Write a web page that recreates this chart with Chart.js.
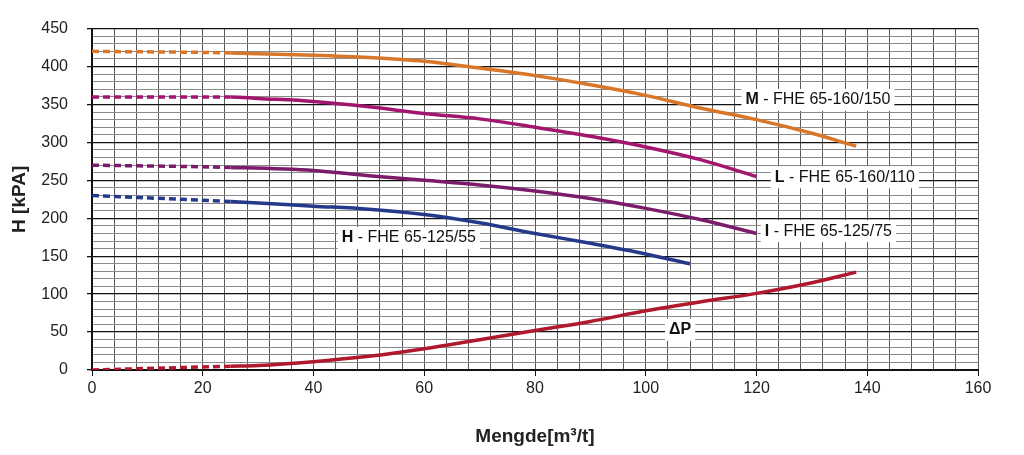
<!DOCTYPE html>
<html>
<head>
<meta charset="utf-8">
<script src="https://cdn.jsdelivr.net/npm/chart.js@4/dist/chart.umd.min.js"></script>
<style>
  html, body { margin: 0; padding: 0; background: #fff; }
</style>
</head>
<body>
<canvas id="pumpChart" width="1024" height="455"></canvas>
<script>
// flow [m3/t] and head [kPa]
const mFlow = [0, 25, 40, 50, 60, 70, 80, 90, 100, 110, 120, 130, 138];
const mHead = [420, 418, 415, 412, 407, 398, 388, 376, 362, 345, 330, 312, 295];

const lFlow = [0, 25, 30, 40, 50, 60, 70, 80, 90, 100, 110, 120];
const lHead = [360, 360, 358, 354, 347, 338, 331, 320, 308, 294, 277, 255];

const iFlow = [0, 25, 40, 50, 60, 70, 80, 90, 100, 110, 120];
const iHead = [270, 267, 263, 256, 250, 244, 236, 226, 213, 198, 180];

const hFlow = [0, 25, 30, 40, 50, 60, 70, 80, 90, 100, 108];
const hHead = [230, 222, 220, 216, 212, 205, 194, 180, 167, 153, 140];

const dpFlow = [0, 25, 30, 40, 50, 60, 70, 80, 90, 100, 110, 120, 130, 138];
const dpHead = [0, 5, 6, 11, 18, 28, 40, 52, 64, 78, 90, 101, 115, 129];

const dashedUntil = 25; // curves are dashed below this flow

// curve names, first part is bold
const curveNames = [
    { bold: 'M', rest: ' - FHE 65-160/150' },
    { bold: 'L', rest: ' - FHE 65-160/110' },
    { bold: 'I', rest: ' - FHE 65-125/75' },
    { bold: 'H', rest: ' - FHE 65-125/55' },
    { bold: '\u0394P', rest: '' }
];
// where each name sits (left edge flow, head)
const nameSpots = [[118, 356], [123.3, 254], [121.5, 183], [45.1, 174], [104.2, 53]];

const FONT = '"Liberation Sans", Arial, sans-serif';

function points(xs, ys) {
    return xs.map((x, i) => ({ x: x, y: ys[i] }));
}

function curve(label, xs, ys, color) {
    return {
        label: label,
        data: points(xs, ys),
        borderColor: color,
        backgroundColor: color,
        borderWidth: 3.5,
        pointRadius: 0,
        tension: 0.4,
        cubicInterpolationMode: 'monotone',
        segment: {
            borderDash: ctx => ctx.p1.parsed.x <= dashedUntil ? [7, 4] : undefined
        }
    };
}

// white boxed labels next to each curve
const curveNamePlugin = {
    id: 'curveNames',
    afterDatasetsDraw(chart) {
        const { ctx, scales } = chart;
        ctx.save();
        ctx.textBaseline = 'middle';
        curveNames.forEach((n, i) => {
            const px = scales.x.getPixelForValue(nameSpots[i][0]);
            const py = scales.y.getPixelForValue(nameSpots[i][1]);
            ctx.font = 'bold 16px ' + FONT;
            const wb = ctx.measureText(n.bold).width;
            ctx.font = '16px ' + FONT;
            const wr = ctx.measureText(n.rest).width;
            ctx.fillStyle = '#fff';
            ctx.fillRect(px - 4, py - 11, wb + wr + 8, 22);
            ctx.fillStyle = '#111';
            ctx.font = 'bold 16px ' + FONT;
            ctx.fillText(n.bold, px, py);
            ctx.font = '16px ' + FONT;
            ctx.fillText(n.rest, px + wb, py);
        });
        ctx.restore();
    }
};

new Chart(document.getElementById('pumpChart'), {
    type: 'line',
    data: {
        datasets: [
            curve('M', mFlow, mHead, '#d8772a'),
            curve('L', lFlow, lHead, '#a3166f'),
            curve('I', iFlow, iHead, '#7b1c6b'),
            curve('H', hFlow, hHead, '#25398a'),
            curve('dP', dpFlow, dpHead, '#b0192d')
        ]
    },
    options: {
        responsive: false,
        devicePixelRatio: 1,
        animation: false,
        layout: { padding: { top: 16, right: 46, bottom: 0, left: 0 } },
        plugins: {
            legend: { display: false },
            tooltip: { enabled: false }
        },
        scales: {
            x: {
                type: 'linear',
                min: 0,
                max: 160,
                afterFit: s => { s.height = 85; },
                border: { color: '#111', width: 2 },
                grid: {
                    color: '#5a5a5a',
                    lineWidth: 1,
                    tickLength: 6,
                    tickColor: c => c.tick && c.tick.value % 20 === 0 ? '#111' : 'rgba(0,0,0,0)'
                },
                ticks: {
                    stepSize: 4,
                    maxTicksLimit: 1000,
                    autoSkip: false,
                    maxRotation: 0,
                    padding: 3,
                    color: '#222',
                    font: { family: FONT, size: 16 },
                    callback: v => v % 20 === 0 ? v : ''
                },
                title: {
                    display: true,
                    text: 'Mengde[m\u00b3/t]',
                    color: '#222',
                    font: { family: FONT, size: 19, weight: 'bold' },
                    padding: { top: 4, bottom: 7 }
                }
            },
            y: {
                min: 0,
                max: 450,
                afterFit: s => { s.width = 92; },
                border: { color: '#111', width: 2 },
                grid: {
                    color: c => c.tick && c.tick.value % 50 === 0 ? '#111' : '#8a8a8a',
                    lineWidth: c => c.tick && c.tick.value % 50 === 0 ? 1.3 : 1,
                    tickLength: 5,
                    tickColor: c => c.tick && c.tick.value % 50 === 0 ? '#111' : 'rgba(0,0,0,0)'
                },
                ticks: {
                    stepSize: 10,
                    maxTicksLimit: 1000,
                    autoSkip: false,
                    padding: 19,
                    color: '#222',
                    font: { family: FONT, size: 16 },
                    callback: v => v % 50 === 0 ? v : ''
                },
                title: {
                    display: true,
                    text: 'H [kPA]',
                    color: '#222',
                    font: { family: FONT, size: 19, weight: 'bold' },
                    padding: { top: 8, bottom: 4 }
                }
            }
        }
    },
    plugins: [curveNamePlugin]
});
</script>
</body>
</html>
